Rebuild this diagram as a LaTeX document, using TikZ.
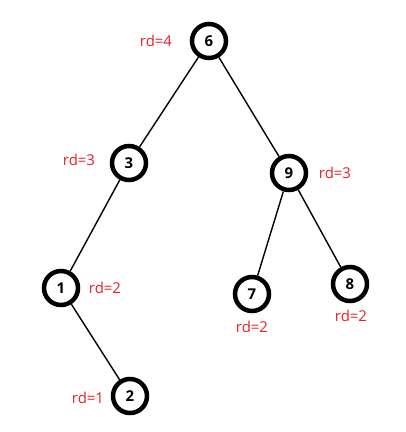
\documentclass[tikz,border=0pt]{standalone}
\usepackage{fontspec}
\setmainfont{Open Sans}
\usepackage{xcolor}
\usetikzlibrary{positioning}
\definecolor{rdred}{HTML}{E8202A}

\begin{document}
\begin{tikzpicture}[
    x=0.02cm, y=-0.02cm,
    every node/.style={font=\fontsize{8.5pt}{10pt}\selectfont, align=center},
    treenode/.style={
      circle, draw=black, line width=0.09cm, minimum size=0.68cm,
      inner sep=0pt, font=\fontsize{8.5pt}{10pt}\selectfont\bfseries
    },
    edge/.style={line width=0.8pt, black},
    rd/.style={text=rdred, inner sep=0pt}
  ]
  \useasboundingbox (0,0) rectangle (405,432);

  \node[treenode] (n6) at (209,41)  {6};
  \node[treenode] (n3) at (129,163) {3};
  \node[treenode] (n9) at (289,173) {9};
  \node[treenode] (n1) at (61,288)  {1};
  \node[treenode] (n7) at (252,294) {7};
  \node[treenode] (n8) at (350,284) {8};
  \node[treenode] (n2) at (130,396) {2};

  \foreach \a/\b in {n6/n3, n6/n9, n3/n1, n1/n2, n9/n7, n9/n8} {\draw[edge] (\a) -- (\b);}

  % rd labels
  \node[rd] (r6) at (156,41)  {rd=4};
  \node[rd] (r3) at (79,160)  {rd=3};
  \node[rd] (r9) at (335,173) {rd=3};
  \node[rd] (r1) at (105,288) {rd=2};
  \node[rd] (r7) at (252,327) {rd=2};
  \node[rd] (r8) at (351,316) {rd=2};
  \node[rd] (r2) at (88,398)  {rd=1};

\end{tikzpicture}
\end{document}
